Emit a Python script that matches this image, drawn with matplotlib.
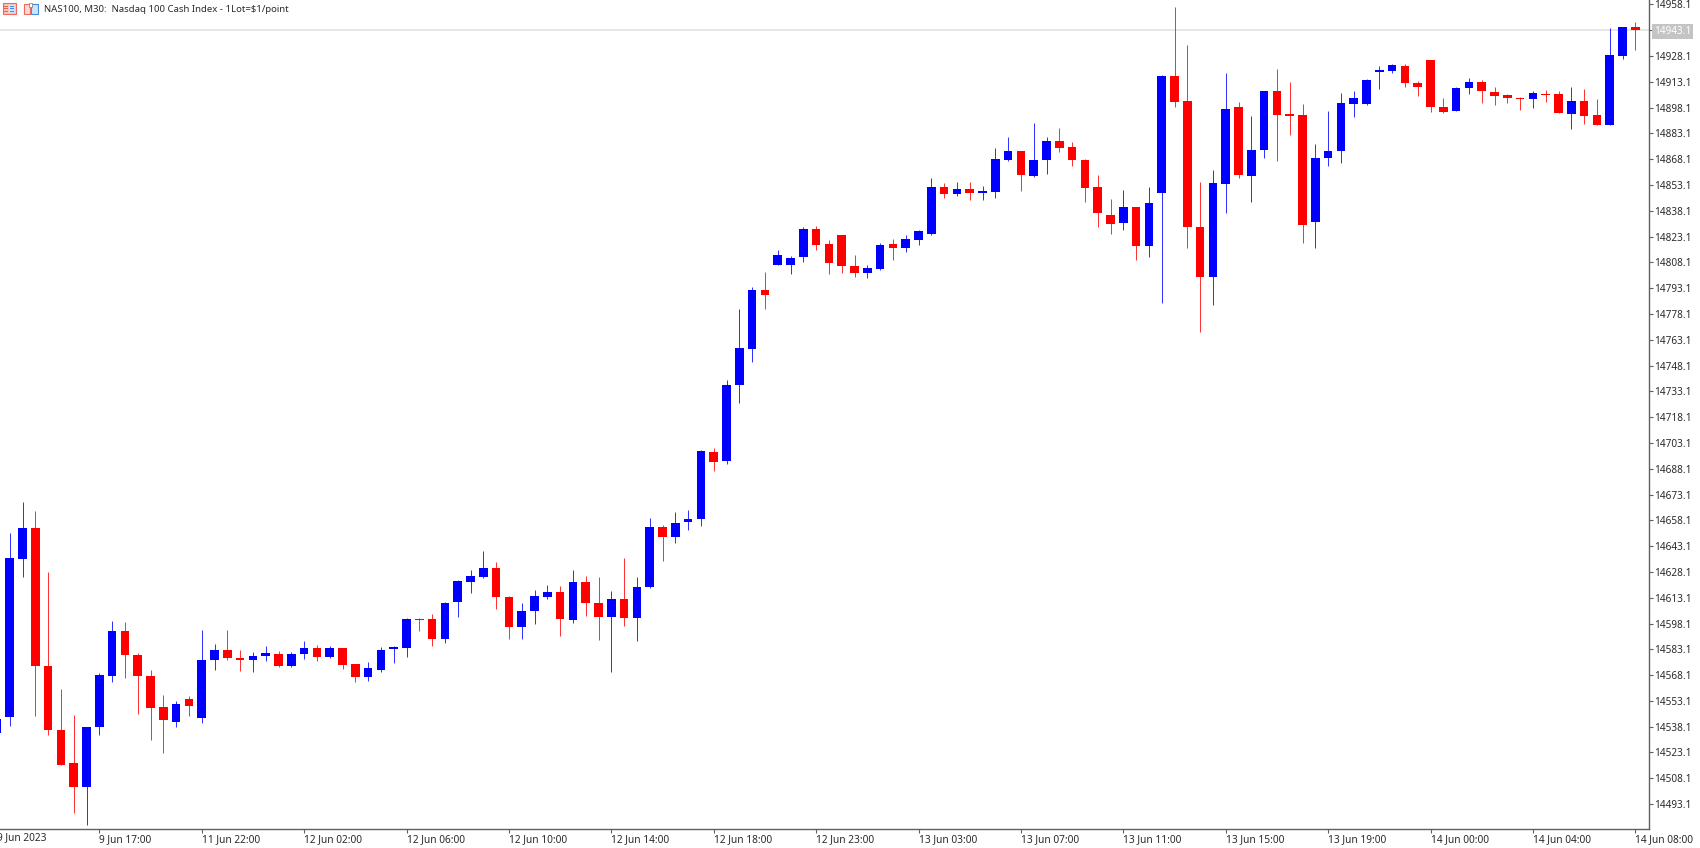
import matplotlib
matplotlib.use('Agg')
import matplotlib.pyplot as plt
from matplotlib.patches import Rectangle

W, H_PX = 1700, 848

# Half-hour OHLC prices for NAS100
opens = [
    14534.2, 14543.5, 14635.6, 14653.4, 14573.5, 14535.9, 14517.1, 14503.0, 14537.9, 14567.5, 14593.5, 14579.9, 14567.7, 14549.3, 14540.6, 14554.4, 14542.9, 14576.8, 14582.7, 14578.0, 14577.0, 14579.2,
    14580.3, 14573.5, 14580.1, 14583.6, 14578.6, 14583.6, 14574.3, 14566.8, 14571.2, 14583.0, 14584.0, 14600.9, 14600.5, 14588.9, 14610.4, 14622.4, 14625.3, 14630.2, 14613.5, 14596.0, 14605.3, 14613.7,
    14616.6, 14600.1, 14622.2, 14610.2, 14602.0, 14612.1, 14601.1, 14619.3, 14654.0, 14648.6, 14656.9, 14658.8, 14697.6, 14692.4, 14736.6, 14757.9, 14791.8, 14806.8, 14806.8, 14811.0, 14827.5, 14818.8,
    14823.8, 14806.2, 14801.7, 14804.4, 14818.6, 14816.7, 14821.3, 14824.4, 14852.1, 14847.7, 14850.8, 14848.3, 14849.2, 14867.6, 14872.7, 14858.3, 14867.6, 14878.7, 14875.0, 14867.5, 14851.7, 14835.8,
    14831.0, 14840.5, 14817.6, 14848.6, 14916.5, 14902.0, 14828.9, 14799.4, 14853.5, 14898.7, 14858.5, 14873.5, 14907.6, 14894.4, 14894.0, 14831.6, 14868.8, 14872.9, 14900.0, 14900.4, 14919.0, 14919.4,
    14922.5, 14912.6, 14925.6, 14898.7, 14896.3, 14909.3, 14913.2, 14907.4, 14905.3, 14903.9, 14903.1, 14906.2, 14906.0, 14894.4, 14902.0, 14893.6, 14888.2, 14928.3, 14944.8,
]
highs = [
    14546.0, 14650.9, 14668.9, 14663.5, 14627.8, 14560.0, 14544.7, 14538.1, 14569.1, 14599.5, 14599.1, 14580.7, 14571.2, 14556.3, 14552.8, 14555.7, 14594.5, 14586.1, 14594.1, 14582.7, 14581.5, 14585.2,
    14582.1, 14581.5, 14587.9, 14585.4, 14585.2, 14583.6, 14574.3, 14575.5, 14584.2, 14585.0, 14601.1, 14601.5, 14603.8, 14610.4, 14623.4, 14629.0, 14640.0, 14633.6, 14613.9, 14610.2, 14617.7, 14620.5,
    14620.1, 14629.2, 14625.7, 14625.1, 14616.8, 14636.4, 14625.1, 14659.6, 14655.4, 14662.9, 14664.3, 14699.2, 14699.9, 14739.7, 14781.0, 14794.0, 14802.5, 14815.3, 14811.8, 14828.7, 14829.5, 14820.9,
    14823.8, 14812.2, 14806.6, 14819.2, 14821.5, 14823.8, 14826.9, 14857.0, 14854.1, 14854.7, 14854.7, 14852.7, 14874.4, 14881.2, 14872.7, 14889.0, 14881.2, 14886.3, 14878.3, 14868.4, 14858.7, 14844.8,
    14850.0, 14840.5, 14851.9, 14916.9, 14956.6, 14934.5, 14854.7, 14862.0, 14918.2, 14901.6, 14893.2, 14907.6, 14920.4, 14913.2, 14900.2, 14876.9, 14896.1, 14906.6, 14907.8, 14914.6, 14922.1, 14923.5,
    14923.3, 14913.6, 14925.8, 14903.9, 14909.9, 14915.5, 14914.0, 14909.9, 14905.8, 14904.3, 14907.6, 14908.2, 14907.8, 14909.9, 14908.9, 14902.9, 14944.2, 14944.8, 14947.7,
]
lows = [
    14534.2, 14538.7, 14625.3, 14544.3, 14533.0, 14515.6, 14488.1, 14481.1, 14533.0, 14563.9, 14566.6, 14545.6, 14530.3, 14522.9, 14538.1, 14544.3, 14540.2, 14570.8, 14577.0, 14570.4, 14569.9, 14576.5,
    14573.0, 14572.8, 14577.4, 14576.5, 14578.2, 14571.8, 14563.9, 14564.8, 14570.1, 14575.1, 14578.8, 14593.7, 14585.2, 14586.9, 14602.0, 14616.0, 14624.7, 14606.7, 14588.9, 14588.9, 14598.0, 14612.5,
    14590.8, 14598.2, 14602.4, 14588.5, 14569.9, 14596.8, 14588.1, 14618.7, 14634.6, 14644.7, 14652.3, 14655.0, 14686.6, 14691.0, 14726.1, 14750.4, 14781.0, 14806.8, 14801.5, 14808.1, 14815.1, 14801.5,
    14802.1, 14799.8, 14799.2, 14803.9, 14809.7, 14814.1, 14818.4, 14823.8, 14845.3, 14846.9, 14844.6, 14844.6, 14845.7, 14867.3, 14849.6, 14858.0, 14859.3, 14872.3, 14864.3, 14843.0, 14828.7, 14824.4,
    14827.1, 14809.5, 14811.4, 14784.5, 14898.5, 14816.7, 14767.4, 14783.1, 14836.6, 14857.4, 14843.0, 14868.8, 14867.3, 14882.2, 14819.2, 14816.5, 14864.2, 14865.9, 14892.8, 14899.8, 14908.7, 14918.4,
    14909.9, 14905.1, 14895.8, 14895.0, 14895.9, 14906.2, 14900.8, 14899.4, 14900.8, 14896.5, 14897.9, 14901.4, 14895.2, 14885.9, 14888.8, 14887.8, 14888.2, 14926.4, 14931.8,
]
closes = [
    14542.3, 14636.0, 14653.4, 14573.5, 14535.9, 14516.0, 14503.0, 14537.7, 14567.9, 14593.5, 14579.8, 14567.7, 14549.1, 14542.1, 14551.1, 14549.9, 14576.7, 14582.7, 14577.8, 14577.0, 14579.0, 14580.7,
    14573.5, 14580.3, 14583.6, 14578.8, 14583.6, 14574.1, 14566.8, 14572.0, 14582.7, 14584.6, 14600.5, 14600.1, 14589.1, 14610.2, 14622.8, 14625.7, 14630.2, 14613.3, 14596.0, 14605.5, 14613.9, 14616.6,
    14600.7, 14622.2, 14610.0, 14601.7, 14612.1, 14601.1, 14619.5, 14654.0, 14648.6, 14656.7, 14659.0, 14698.2, 14691.8, 14736.8, 14758.1, 14791.8, 14789.1, 14812.6, 14810.8, 14827.5, 14818.4, 14807.7,
    14806.0, 14801.7, 14804.6, 14818.2, 14816.7, 14821.5, 14826.2, 14851.7, 14847.7, 14850.8, 14848.3, 14849.4, 14868.0, 14872.7, 14858.9, 14867.6, 14878.7, 14874.8, 14867.5, 14851.6, 14836.6, 14830.6,
    14840.5, 14817.6, 14842.8, 14916.5, 14901.4, 14828.7, 14799.4, 14854.1, 14897.3, 14858.9, 14873.5, 14907.6, 14893.8, 14893.4, 14829.6, 14869.0, 14873.1, 14901.0, 14903.7, 14914.0, 14919.8, 14922.9,
    14912.6, 14910.3, 14898.5, 14895.8, 14909.5, 14913.2, 14908.0, 14905.1, 14903.5, 14903.1, 14906.6, 14905.6, 14895.2, 14902.0, 14893.4, 14888.2, 14928.5, 14944.8, 14943.3,
]

price_ticks = [14958.1 - 15 * k for k in range(32)]
last_price = 14943.1
time_labels = [
    '9 Jun 2023', '9 Jun 17:00', '11 Jun 22:00', '12 Jun 02:00', '12 Jun 06:00',
    '12 Jun 10:00', '12 Jun 14:00', '12 Jun 18:00', '12 Jun 23:00', '13 Jun 03:00',
    '13 Jun 07:00', '13 Jun 11:00', '13 Jun 15:00', '13 Jun 19:00', '14 Jun 00:00',
    '14 Jun 04:00', '14 Jun 08:00',
]
title = 'NAS100, M30:  Nasdaq 100 Cash Index - 1Lot=$1/point'

UP, DOWN = '#0000ff', '#ff0000'
TEXT = '#2a2a2a'
AXIS = '#606060'

plt.rcParams['font.family'] = ['Noto Sans', 'DejaVu Sans']
fig = plt.figure(figsize=(W / 100, H_PX / 100), dpi=100, facecolor='white')
ax = fig.add_axes([0, 1 - 829 / H_PX, 1649 / W, 829 / H_PX])

for s in ('top', 'left'):
    ax.spines[s].set_visible(False)
for s in ('right', 'bottom'):
    ax.spines[s].set_color(AXIS)
    ax.spines[s].set_linewidth(1.0)

# Current-price line sits beneath the candles
ax.axhline(last_price, color='#e2e2e2', lw=1.2, zorder=1)

for i, (o, h, l, c) in enumerate(zip(opens, highs, lows, closes)):
    col = UP if c >= o else DOWN
    ax.vlines(i, l, h, color=col, lw=0.72, alpha=0.8, zorder=2)
    ax.bar(i, abs(c - o), bottom=min(o, c), width=0.68, color=col, lw=0, zorder=3)

# Price axis on the right
ax.yaxis.tick_right()
ax.set_yticks(price_ticks)
ax.set_yticklabels([f'{v:.1f}' for v in price_ticks], fontsize=7.2, color=TEXT)
for lab, v in zip(ax.get_yticklabels(), price_ticks):
    if abs(v - last_price) < 0.01:
        lab.set_color('white')
        lab.set_bbox(dict(facecolor='#c4c4c4', edgecolor='none', pad=1.6))
ax.tick_params(axis='y', length=3, width=0.8, color=AXIS, pad=0.5)

# Time axis: every label starts at its tick; the first tick lies left of the view
tick_idx = list(range(0, 129, 8))
ax.set_xticks(tick_idx[1:])
ax.set_xticklabels(time_labels[1:], fontsize=7.3, color=TEXT, ha='left', rotation=0)
ax.tick_params(axis='x', length=3, width=0.8, color=AXIS, pad=1)
fig.text(-3 / W, 1 - 837.5 / H_PX, time_labels[0], fontsize=7.3, color=TEXT, ha='left', va='center')

ax.set_xlim(0.24, 129.07)
ax.set_ylim(14478.6, 14960.7)

fig.text(44 / W, 1 - 9 / H_PX, title, fontsize=6.9, color=TEXT, ha='left', va='center')


def px_rect(x, y, w, h, **kw):
    fig.add_artist(Rectangle((x / W, 1 - (y + h) / H_PX), w / W, h / H_PX,
                             transform=fig.transFigure, **kw))


# Small toolbar glyphs beside the title
px_rect(2.5, 3.5, 13, 10, facecolor='#f9c9c0', edgecolor='#ee6a5c', lw=0.8)
px_rect(9, 4.5, 5.5, 8, facecolor='#cfe4fa', edgecolor='none')
for yy in (6, 8.5, 11):
    px_rect(4, yy, 4, 0.9, facecolor='#e8604f', edgecolor='none')
    px_rect(9.5, yy, 4.5, 0.9, facecolor='#3f8ee0', edgecolor='none')
px_rect(23.5, 4, 6.5, 9.5, facecolor='#fbd9d3', edgecolor='#ee6a5c', lw=0.8)
px_rect(31, 4, 6.5, 9.5, facecolor='#cfe4fa', edgecolor='#3f8ee0', lw=0.8)
px_rect(29, 3, 3, 3.5, facecolor='white', edgecolor='#8a8a8a', lw=0.6)

fig.savefig('out.png', dpi=100, facecolor='white')
